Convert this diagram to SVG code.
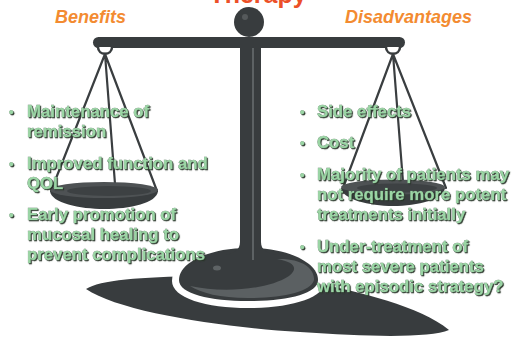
<svg xmlns="http://www.w3.org/2000/svg" width="516" height="342" viewBox="0 0 516 342">
  <defs>
    <style>
      .iron { fill: #383c3e; }
      .string { stroke: #3a3e40; stroke-width: 2.2; fill: none; stroke-linecap: round; }
      .head { font-family: "Liberation Sans", Arial, sans-serif; font-weight: bold; font-style: italic; font-size: 18px; fill: #f38b31; }
      .title { font-family: "Liberation Sans", Arial, sans-serif; font-weight: bold; font-size: 25px; fill: #ec5028; }
      .item { font-family: "Liberation Sans", Arial, sans-serif; font-weight: bold; font-size: 16.8px; fill: #9ad5a4; stroke: #5c7a62; stroke-width: 0.5; paint-order: stroke; }
      .dot { font-size: 13px; }
    </style>
    <filter id="emboss" x="-5%" y="-20%" width="110%" height="150%">
      <feDropShadow dx="1.1" dy="1.1" stdDeviation="0.35" flood-color="#263028" flood-opacity="0.95"/>
    </filter>
  </defs>

  <rect x="0" y="0" width="516" height="342" fill="#ffffff"/>

  <!-- title and column headings -->
  <text class="title" x="258" y="3" text-anchor="middle">Therapy</text>
  <text class="head" x="55" y="23">Benefits</text>
  <text class="head" x="345" y="23">Disadvantages</text>

  <!-- cast shadow on the floor -->
  <path class="iron" d="M 86 289 C 100 280 140 277 200 276 L 310 282 C 360 292 420 306 449 330 C 430 338 370 337 300 332 C 220 327 120 312 86 289 Z"/>
  <!-- white gap round the foot -->
  <path fill="#ffffff" d="M 172 281 C 172 258 206 242 248 242 C 291 242 325 258 325 281 C 325 298 291 308 248 308 C 206 308 172 298 172 281 Z"/>

  <!-- foot -->
  <g id="foot">
    <path class="iron" d="M 179 280 C 179 262 210 248 248 248 C 287 248 318 262 318 280 C 318 294 287 301 248 301 C 210 301 179 294 179 280 Z"/>
    <path fill="#5b6062" d="M 190 286 C 222 293 268 290 289 276 C 299 268 294 262 277 259 C 301 258 315 268 314 280 C 311 292 282 298 248 298 C 220 298 201 293 190 286 Z"/>
    <ellipse cx="217" cy="268" rx="4" ry="2.5" fill="#5e6365"/>
  </g>

  <!-- pillar and head -->
  <g id="pillar">
    <path class="iron" d="M 240 40 L 240 242 C 240 250 234 253 226 255 L 276 255 C 267 253 261 250 261 242 L 261 40 Z"/>
    <rect x="252" y="46" width="2" height="214" fill="#5d6264"/>
    <circle class="iron" cx="249" cy="22" r="15"/>
    <circle cx="245" cy="17" r="3" fill="#55595b"/>
  </g>

  <!-- beam with hanging loops -->
  <g id="beam">
    <rect class="iron" x="93" y="37" width="312" height="11" rx="5.5"/>
    <path d="M 98 47 C 98 56 112 56 112 47" fill="#ffffff" stroke="#383c3e" stroke-width="2.5"/>
    <path d="M 386 47 C 386 56 400 56 400 47" fill="#ffffff" stroke="#383c3e" stroke-width="2.5"/>
  </g>

  <!-- left pan -->
  <g id="pan-left">
    <path class="string" d="M 105 54 L 51 191 M 105 54 L 115 184 M 105 54 L 157 191"/>
    <path class="iron" d="M 50 191 C 51 203 80 209 104 209 C 130 209 157 203 158 191 Z"/>
    <ellipse cx="104" cy="190" rx="54" ry="8" fill="#4e5254"/>
    <ellipse cx="109" cy="191" rx="42" ry="5" fill="#3d4143"/>
  </g>

  <!-- right pan -->
  <g id="pan-right">
    <path class="string" d="M 393 54 L 343 188 M 393 54 L 403 182 M 393 54 L 446 188"/>
    <path class="iron" d="M 341 188 C 342 199 369 206 393 206 C 418 206 444 199 445 188 Z"/>
    <ellipse cx="393" cy="187" rx="52" ry="7.5" fill="#4e5254"/>
    <ellipse cx="397" cy="188" rx="40" ry="4.5" fill="#3d4143"/>
  </g>

  <!-- benefits list -->
  <g id="benefits" filter="url(#emboss)">
    <text class="item dot" x="9" y="116">•</text>
    <text class="item" x="27" y="117">Maintenance of</text>
    <text class="item" x="27" y="137">remission</text>
    <text class="item dot" x="9" y="168">•</text>
    <text class="item" x="27" y="169">Improved function and</text>
    <text class="item" x="27" y="189">QOL</text>
    <text class="item dot" x="9" y="219">•</text>
    <text class="item" x="27" y="220">Early promotion of</text>
    <text class="item" x="27" y="240">mucosal healing to</text>
    <text class="item" x="27" y="260">prevent complications</text>
  </g>

  <!-- disadvantages list -->
  <g id="disadvantages" filter="url(#emboss)">
    <text class="item dot" x="300" y="116">•</text>
    <text class="item" x="317" y="117">Side effects</text>
    <text class="item dot" x="300" y="147">•</text>
    <text class="item" x="317" y="148">Cost</text>
    <text class="item dot" x="300" y="179">•</text>
    <text class="item" x="317" y="180">Majority of patients may</text>
    <text class="item" x="317" y="200">not require more potent</text>
    <text class="item" x="317" y="220">treatments initially</text>
    <text class="item dot" x="300" y="251">•</text>
    <text class="item" x="317" y="252">Under-treatment of</text>
    <text class="item" x="317" y="272">most severe patients</text>
    <text class="item" x="317" y="292">with episodic strategy?</text>
  </g>
</svg>
